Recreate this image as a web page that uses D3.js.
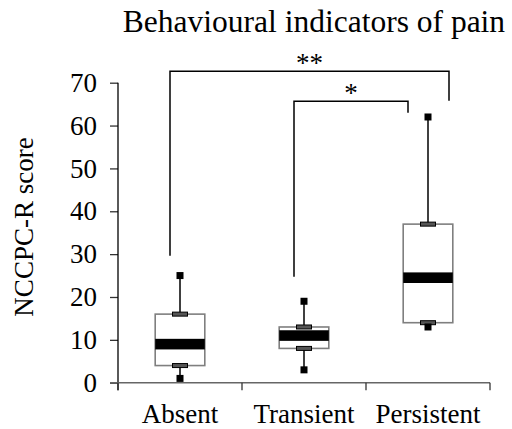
<!DOCTYPE html>
<html>
<head>
<meta charset="utf-8">
<script src="https://cdn.jsdelivr.net/npm/d3@7"></script>
<style>
  body { margin: 0; background: #fff; }
  svg text { font-family: "Liberation Serif", "Times New Roman", serif !important; fill: #000; }
</style>
</head>
<body>
<svg id="chart" width="512" height="429"></svg>
<script>
// data
const categories = ["Absent", "Transient", "Persistent"];
const minVals = [1, 3, 13];
const q1Vals = [4, 8, 14];
const medianVals = [9, 11, 24.5];
const q3Vals = [16, 13, 37];
const maxVals = [25, 19, 62];
const yTicks = [0, 10, 20, 30, 40, 50, 60, 70];

// significance brackets (heights in score units)
const brackets = [
  { from: "Absent", to: "Persistent", label: "**", top: 72.7, fromEnd: 29.6, toEnd: 65.8, fromDx: -10, toDx: 21 },
  { from: "Transient", to: "Persistent", label: "*", top: 65.7, fromEnd: 24.7, toEnd: 63, fromDx: -10, toDx: -20 },
];

const margin = { left: 118, right: 22, top: 82.7, bottom: 46.3 };
const W = 512, H = 429;
const serif = '"Liberation Serif", "Times New Roman", serif';

const svg = d3.select("#chart");

const x = d3.scaleBand().domain(categories).range([margin.left, W - margin.right]).padding(0);
const y = d3.scaleLinear().domain([0, 70]).range([H - margin.bottom, margin.top]);

const boxW = x.bandwidth() * 0.4;

// y axis
const yAxis = svg.append("g")
  .attr("transform", `translate(${margin.left},0)`)
  .call(d3.axisLeft(y).tickValues(yTicks).tickSize(8).tickPadding(13).tickSizeOuter(0));
yAxis.attr("font-family", serif).attr("font-size", 27);
yAxis.select(".domain").remove();
yAxis.selectAll(".tick line").attr("stroke", "#333").attr("stroke-width", 1.3);
yAxis.selectAll(".tick text").style("font-size", "27px");

svg.append("line")
  .attr("x1", margin.left).attr("x2", margin.left)
  .attr("y1", y(70)).attr("y2", y(0) + 7.5)
  .attr("stroke", "#000").attr("stroke-width", 1.3);

// x axis
svg.append("line")
  .attr("x1", margin.left - 8).attr("x2", W - margin.right)
  .attr("y1", y(0)).attr("y2", y(0))
  .attr("stroke", "#666").attr("stroke-width", 1.5);

const bounds = categories.map((c) => x(c)).concat([x(categories[categories.length - 1]) + x.bandwidth()]);
svg.selectAll(".xtick").data(bounds).join("line")
  .attr("class", "xtick")
  .attr("x1", (d) => d).attr("x2", (d) => d)
  .attr("y1", y(0)).attr("y2", y(0) + 7.5)
  .attr("stroke", "#333").attr("stroke-width", 1.3);

svg.selectAll(".xlab").data(categories).join("text")
  .attr("class", "xlab")
  .attr("x", (d) => x(d) + x.bandwidth() / 2)
  .attr("y", 423)
  .attr("text-anchor", "middle")
  .style("font-size", "27px")
  .text((d) => d);

// y label
svg.append("text")
  .attr("transform", "translate(33,227) rotate(-90)")
  .attr("text-anchor", "middle")
  .style("font-size", "27px")
  .text("NCCPC-R score");

// title
svg.append("text")
  .attr("x", 314)
  .attr("y", 32)
  .attr("text-anchor", "middle")
  .style("font-size", "31.5px")
  .text("Behavioural indicators of pain");

// boxes
const boxes = categories.map((c, i) => ({
  cat: c, min: minVals[i], q1: q1Vals[i], med: medianVals[i], q3: q3Vals[i], max: maxVals[i],
}));

const g = svg.selectAll(".box").data(boxes).join("g")
  .attr("class", "box")
  .attr("transform", (d) => `translate(${x(d.cat) + x.bandwidth() / 2},0)`);

// whiskers
g.append("line")
  .attr("x1", 0).attr("x2", 0)
  .attr("y1", (d) => y(d.max)).attr("y2", (d) => y(d.q3))
  .attr("stroke", "#000").attr("stroke-width", 1.5);
g.append("line")
  .attr("x1", 0).attr("x2", 0)
  .attr("y1", (d) => y(d.q1)).attr("y2", (d) => y(d.min))
  .attr("stroke", "#000").attr("stroke-width", 1.5);

// box
g.append("rect")
  .attr("x", -boxW / 2)
  .attr("width", boxW)
  .attr("y", (d) => y(d.q3))
  .attr("height", (d) => y(d.q1) - y(d.q3))
  .attr("fill", "#fff")
  .attr("stroke", "#7f7f7f")
  .attr("stroke-width", 1.6);

// median band
g.append("rect")
  .attr("x", -boxW / 2)
  .attr("width", boxW)
  .attr("y", (d) => y(d.med) - 5.3)
  .attr("height", 10.6)
  .attr("fill", "#000");

// quartile caps
["q1", "q3"].forEach((k) => {
  g.append("rect")
    .attr("x", -7.5)
    .attr("width", 15)
    .attr("y", (d) => y(d[k]) - 2)
    .attr("height", 4)
    .attr("fill", "#555")
    .attr("stroke", "#000")
    .attr("stroke-width", 1);
});

// min / max squares
["min", "max"].forEach((k) => {
  g.append("rect")
    .attr("x", -3.5)
    .attr("width", 7)
    .attr("y", (d) => y(d[k]) - 3.5)
    .attr("height", 7)
    .attr("fill", "#000");
});

// significance brackets
const bg = svg.selectAll(".sig").data(brackets).join("g").attr("class", "sig");
bg.append("path")
  .attr("d", (d) => {
    const x1 = x(d.from) + x.bandwidth() / 2 + d.fromDx;
    const x2 = x(d.to) + x.bandwidth() / 2 + d.toDx;
    return `M${x1},${y(d.fromEnd)}V${y(d.top)}H${x2}V${y(d.toEnd)}`;
  })
  .attr("fill", "none")
  .attr("stroke", "#000")
  .attr("stroke-width", 1.5);
bg.append("text")
  .attr("x", (d) => (x(d.from) + x.bandwidth() / 2 + d.fromDx + x(d.to) + x.bandwidth() / 2 + d.toDx) / 2)
  .attr("y", (d) => y(d.top) + 1)
  .attr("text-anchor", "middle")
  .style("font-size", "27px")
  .text((d) => d.label);
</script>
</body>
</html>
